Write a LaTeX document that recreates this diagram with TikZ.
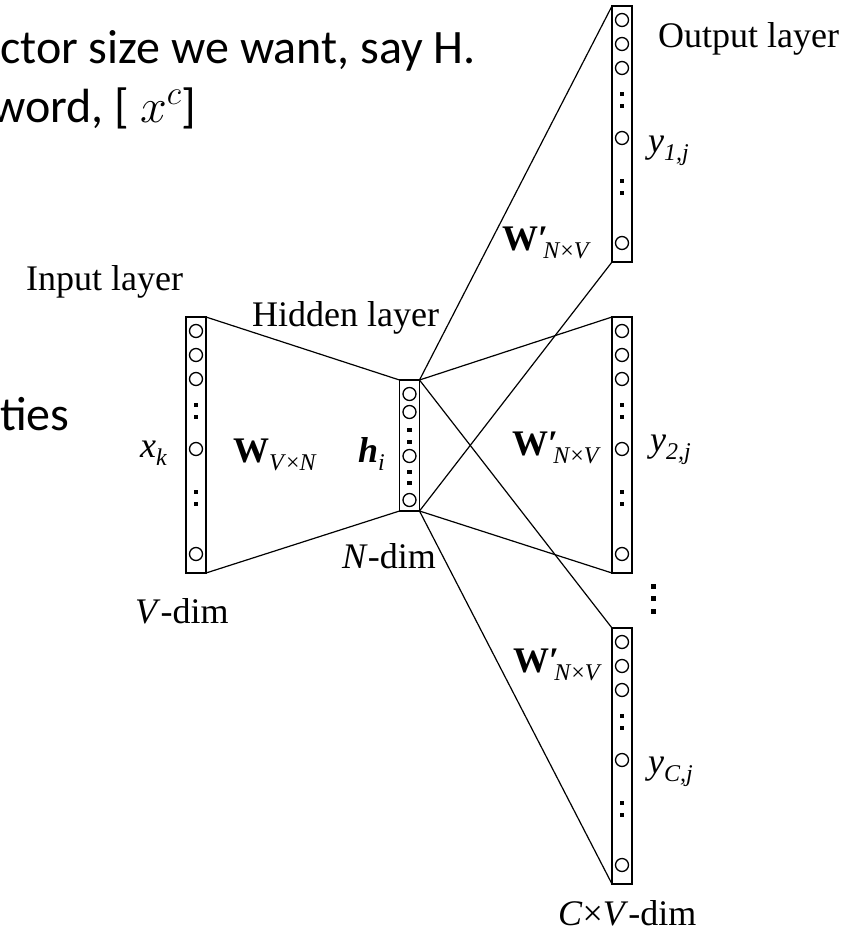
\documentclass[tikz,border=0pt]{standalone}
\usepackage{fix-cm}
\usepackage{fontspec}
\newfontfamily\tms{Liberation Serif}
\newfontfamily\calibrifont{Carlito}
\usetikzlibrary{calc}
\newcommand\lsub[1]{\raisebox{-8pt}{\fontsize{24}{26}\selectfont\itshape #1}}
\newcommand\wprime[1]{\textbf{W′}\kern-5pt\lsub{#1}}
\tikzset{
  layerbox/.style={draw, line width=1.7pt, rectangle, minimum width=20pt, inner sep=0pt, outer sep=0pt},
  unitc/.style={draw, line width=1.3pt},
  conn/.style={draw, line width=1.2pt},
  lab/.style={font=\tms\fontsize{36}{40}\selectfont, inner sep=0pt, anchor=base west},
  slidetext/.style={font=\calibrifont\fontsize{48}{58}\selectfont, inner sep=0pt, anchor=base west},
}
\newcommand\bigcol[1]{%
  \foreach \o in {14,38,62,132,237} \draw[unitc] ($(#1.north)+(0,\o)$) circle (6.5pt);
  \foreach \o in {88,100,175,187} \fill ($(#1.north)+(-2.25,\o-2.25)$) rectangle ++(4.5,4.5);
}
\begin{document}
\begin{tikzpicture}[x=1pt,y=-1pt]
\useasboundingbox (0,0) rectangle (853,937);
\clip (0,0) rectangle (853,937);
\fill[white] (0,0) rectangle (853,937);

% slide text
\node[slidetext] (t1) at (0,63) {ctor size we want, say H.};
\node[slidetext] (t2) at (-9,122) {word, [ $x^{c}$]};
\node[slidetext] (t3) at (0,430) {ties};

% layers
\node[layerbox, minimum height=256pt] (inp) at (196,445) {};
\node[layerbox, minimum height=131pt] (hid) at (409.5,445.5) {};
\node[layerbox, minimum height=256pt] (out1) at (622,134) {};
\node[layerbox, minimum height=256pt] (out2) at (622,445) {};
\node[layerbox, minimum height=256pt] (out3) at (622,756) {};

\bigcol{inp}
\bigcol{out1}
\bigcol{out2}
\bigcol{out3}
\foreach \o in {14,32,76,120} \draw[unitc] ($(hid.north)+(0,\o)$) circle (6.5pt);
\foreach \o in {50,62,92,103} \fill ($(hid.north)+(-2.25,\o-2.25)$) rectangle ++(4.5,4.5);

% vertical ellipsis between output layers
\foreach \o in {586,598,611} \fill (650.5,\o-2.5) rectangle ++(5,5);

% connectors
\draw[conn] (inp.north east) -- (hid.north west);
\draw[conn] (inp.south east) -- (hid.south west);
\foreach \t in {out1,out2,out3} {
  \draw[conn] (hid.north east) -- (\t.north west);
  \draw[conn] (hid.south east) -- (\t.south west);
}

% labels
\node[lab] (linput) at (26,290) {Input layer};
\node[lab] (lhidden) at (252,326) {Hidden layer};
\node[lab] (loutput) at (658,47) {Output layer};
\node[lab] (lxk) at (140,457) {\textit{x}\lsub{k}};
\node[lab] (lw) at (233,462) {\textbf{W}\lsub{V\textup{×}N}};
\node[lab] (lh) at (358,462) {\textbf{\textit{h}}\lsub{i}};
\node[lab] (lndim) at (342,568) {\textit{N}-dim};
\node[lab] (lvdim) at (135,623) {\textit{V}-dim};
\node[lab] (lw1) at (502,250) {\wprime{N\textup{×}V}};
\node[lab] (lw2) at (512,455) {\wprime{N\textup{×}V}};
\node[lab] (lw3) at (513,672) {\wprime{N\textup{×}V}};
\node[lab] (ly1) at (648,152) {\textit{y}\lsub{1,j}};
\node[lab] (ly2) at (650,451) {\textit{y}\lsub{2,j}};
\node[lab] (lyc) at (648,773) {\textit{y}\lsub{C,j}};
\node[lab] (lcv) at (558,925) {\textit{C}×\textit{V}-dim};
\end{tikzpicture}
\end{document}
